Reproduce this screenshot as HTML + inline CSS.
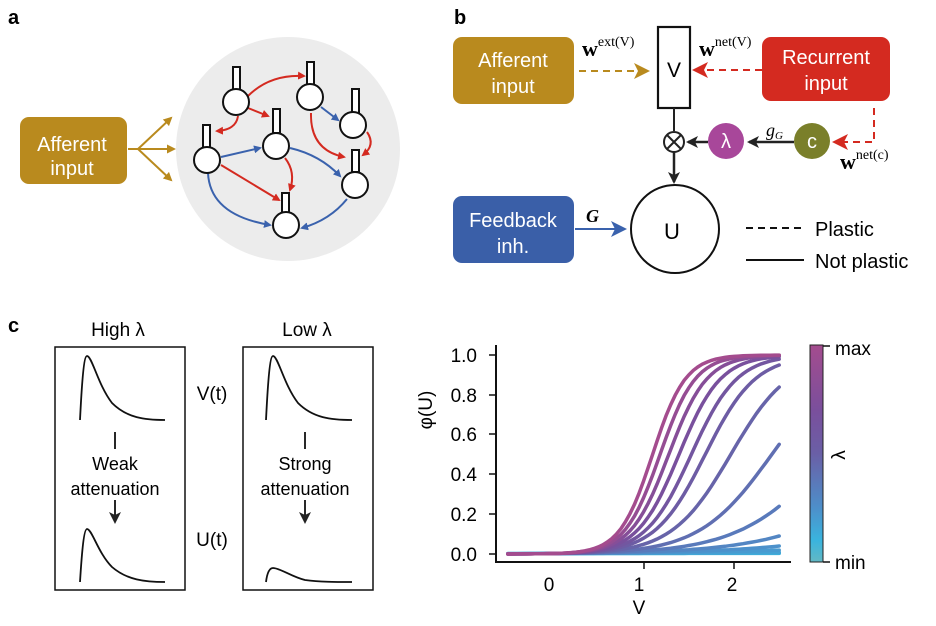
<!DOCTYPE html>
<html><head><meta charset="utf-8"><style>
body{margin:0;background:#fff}
svg{display:block;font-family:"Liberation Sans",sans-serif}
.w{fill:#fff;font-size:20px;text-anchor:middle}
.s{font-family:"Liberation Serif",serif;font-weight:bold}
</style></head><body>
<svg id="s" width="936" height="626" viewBox="0 0 936 626">
<defs>
<marker id="ar" markerWidth="8" markerHeight="8" refX="6" refY="4" orient="auto" markerUnits="userSpaceOnUse"><path d="M0,0 L8,4 L0,8 Z" fill="#d42a20"/></marker>
<marker id="ab" markerWidth="8" markerHeight="8" refX="6" refY="4" orient="auto" markerUnits="userSpaceOnUse"><path d="M0,0 L8,4 L0,8 Z" fill="#3a62ad"/></marker>
<marker id="ag" markerWidth="9" markerHeight="9" refX="7" refY="4.5" orient="auto" markerUnits="userSpaceOnUse"><path d="M0,0 L9,4.5 L0,9 Z" fill="#b98a1e"/></marker>
<marker id="ak" markerWidth="12" markerHeight="12" refX="10" refY="6" orient="auto" markerUnits="userSpaceOnUse"><path d="M0,0 L12,6 L0,12 L3,6 Z" fill="#222"/></marker>
<marker id="ag2" markerWidth="16" markerHeight="16" refX="14" refY="8" orient="auto" markerUnits="userSpaceOnUse"><path d="M0,0 L16,8 L0,16 L4,8 Z" fill="#b98a1e"/></marker>
<marker id="ar2" markerWidth="16" markerHeight="16" refX="14" refY="8" orient="auto" markerUnits="userSpaceOnUse"><path d="M0,0 L16,8 L0,16 L4,8 Z" fill="#d42a20"/></marker>
<marker id="ab2" markerWidth="16" markerHeight="16" refX="14" refY="8" orient="auto" markerUnits="userSpaceOnUse"><path d="M0,0 L16,8 L0,16 L4,8 Z" fill="#3a62ad"/></marker>
<linearGradient id="cb" x1="0" y1="0" x2="0" y2="1">
<stop offset="0" stop-color="#a44c8e"/><stop offset="0.3" stop-color="#7a4f9c"/><stop offset="0.5" stop-color="#6a5fa6"/><stop offset="0.75" stop-color="#4d8fca"/><stop offset="0.9" stop-color="#3ab4de"/><stop offset="1" stop-color="#62b8c4"/></linearGradient>
</defs>
<!-- panel a -->
<text x="8" y="24" font-size="20" font-weight="bold">a</text>
<rect x="20" y="117" width="107" height="67" rx="9" fill="#b98a1e"/>
<text class="w" x="72" y="151" font-size="20">Afferent</text>
<text class="w" x="72" y="175">input</text>
<g stroke="#b98a1e" stroke-width="2" fill="none">
<path d="M128,149 L138,149" /><path d="M138,149 L171,118" marker-end="url(#ag)"/><path d="M138,149 L174,149" marker-end="url(#ag)"/><path d="M138,149 L171,180" marker-end="url(#ag)"/></g>
<circle cx="288" cy="149" r="112" fill="#ececec"/>
<g stroke="#d42a20" stroke-width="2" fill="none" marker-end="url(#ar)">
<path d="M248,96 Q270,74 304,76"/><path d="M248,108 L268,116"/><path d="M238,116 Q236,130 217,131"/><path d="M311,113 Q310,150 344,157"/><path d="M367,132 Q376,145 363,155"/><path d="M285,158 Q296,172 290,190"/><path d="M221,165 L279,200"/></g>
<g stroke="#3a62ad" stroke-width="2" fill="none" marker-end="url(#ab)">
<path d="M221,157 L260,148"/><path d="M290,148 Q320,155 340,176"/><path d="M321,107 L338,120"/><path d="M208,173 Q210,215 270,225"/><path d="M347,199 Q330,220 302,228"/></g>
<g stroke="#111" stroke-width="2" fill="#fff">
<rect x="233" y="67" width="7" height="23"/><circle cx="236" cy="102" r="13"/>
<rect x="307" y="62" width="7" height="25"/><circle cx="310" cy="97" r="13"/>
<rect x="352" y="89" width="7" height="24"/><circle cx="353" cy="125" r="13"/>
<rect x="273" y="109" width="7" height="24"/><circle cx="276" cy="146" r="13"/>
<rect x="203" y="125" width="7" height="23"/><circle cx="207" cy="160" r="13"/>
<rect x="352" y="150" width="7" height="22"/><circle cx="355" cy="185" r="13"/>
<rect x="282" y="193" width="7" height="20"/><circle cx="286" cy="225" r="13"/></g>
<!-- panel b -->
<text x="454" y="24" font-size="20" font-weight="bold">b</text>
<rect x="453" y="37" width="121" height="67" rx="9" fill="#b98a1e"/>
<text class="w" x="513" y="67" font-size="21">Afferent</text><text class="w" x="513" y="93" font-size="21">input</text>
<rect x="762" y="37" width="128" height="64" rx="9" fill="#d42a20"/>
<text class="w" x="826" y="64" font-size="21">Recurrent</text><text class="w" x="826" y="90" font-size="21">input</text>
<rect x="453" y="196" width="121" height="67" rx="9" fill="#3a5fa8"/>
<text class="w" x="513" y="227" font-size="21">Feedback</text><text class="w" x="513" y="253" font-size="21">inh.</text>
<path d="M579,71 L648,71" stroke="#b98a1e" stroke-width="2" stroke-dasharray="7,5" fill="none" marker-end="url(#ag2)"/>
<path d="M762,70 L694,70" stroke="#d42a20" stroke-width="2" stroke-dasharray="7,5" fill="none" marker-end="url(#ar2)"/>
<path d="M874,108 L874,142 L834,142" stroke="#d42a20" stroke-width="2" stroke-dasharray="7,5" fill="none" marker-end="url(#ar2)"/>
<path d="M575,229 L625,229" stroke="#3a62ad" stroke-width="2" fill="none" marker-end="url(#ab2)"/>
<rect x="658" y="27" width="32" height="81" fill="#fff" stroke="#111" stroke-width="2.2"/>
<text x="674" y="77" font-size="21" text-anchor="middle">V</text>
<path d="M674,108 L674,131" stroke="#222" stroke-width="2"/>
<circle cx="674" cy="142" r="10" fill="#fff" stroke="#222" stroke-width="2"/>
<path d="M667,135 L681,149 M681,135 L667,149" stroke="#222" stroke-width="2"/>
<path d="M674,152 L674,182" stroke="#222" stroke-width="2.5" marker-end="url(#ak)"/>
<path d="M708,142 L688,142" stroke="#222" stroke-width="2.5" marker-end="url(#ak)"/>
<path d="M794,142 L749,142" stroke="#222" stroke-width="2.5" marker-end="url(#ak)"/>
<circle cx="726" cy="141" r="18" fill="#a8479a"/><text class="w" x="726" y="148" font-size="19">λ</text>
<circle cx="812" cy="141" r="18" fill="#7a7f2a"/><text class="w" x="812" y="148" font-size="19">c</text>
<circle cx="675" cy="229" r="44" fill="#fff" stroke="#111" stroke-width="2"/>
<text x="672" y="239" font-size="22" text-anchor="middle">U</text>
<text class="s" x="582" y="56" font-size="22">w<tspan font-size="14" font-weight="normal" dy="-10">ext(V)</tspan></text>
<text class="s" x="699" y="56" font-size="22">w<tspan font-size="14" font-weight="normal" dy="-10">net(V)</tspan></text>
<text class="s" x="840" y="169" font-size="22">w<tspan font-size="14" font-weight="normal" dy="-10">net(c)</tspan></text>
<text x="766" y="136" font-size="18" font-style="italic" font-family="Liberation Serif,serif">g<tspan font-size="11" dy="3">G</tspan></text>
<text x="586" y="222" font-size="18" font-style="italic" font-weight="bold" font-family="Liberation Serif,serif">G</text>
<path d="M746,228 L804,228" stroke="#111" stroke-width="2" stroke-dasharray="7,5"/>
<path d="M746,260 L804,260" stroke="#111" stroke-width="2"/>
<text x="815" y="236" font-size="20">Plastic</text><text x="815" y="268" font-size="20">Not plastic</text>
<!-- panel c -->
<text x="8" y="332" font-size="20" font-weight="bold">c</text>
<text x="118" y="336" font-size="19" text-anchor="middle">High λ</text>
<text x="307" y="336" font-size="19" text-anchor="middle">Low λ</text>
<rect x="55" y="347" width="130" height="243" fill="none" stroke="#111" stroke-width="1.5"/>
<rect x="243" y="347" width="130" height="243" fill="none" stroke="#111" stroke-width="1.5"/>
<text x="212" y="400" font-size="19" text-anchor="middle">V(t)</text>
<text x="212" y="546" font-size="19" text-anchor="middle">U(t)</text>
<g stroke="#111" stroke-width="1.8" fill="none">
<path d="M80,420 C82,380 84,356 87,356 C92,356 98,385 112,403 C127,418 145,420 165,420"/>
<path d="M266,420 C268,380 270,356 273,356 C278,356 284,385 298,403 C313,418 331,420 352,420"/>
<path d="M80,582 C82,550 84,529 87,529 C92,529 98,553 112,567 C127,580 145,582 165,582"/>
<path d="M266,582 C267,574 269,568 273,568 C280,568 292,577 305,580 C320,582 335,582 352,582"/>
<path d="M115,432 L115,449"/><path d="M305,432 L305,449"/>
<path d="M115,500 L115,522" marker-end="url(#ak)"/><path d="M305,500 L305,522" marker-end="url(#ak)"/></g>
<text x="115" y="470" font-size="18" text-anchor="middle">Weak</text><text x="115" y="495" font-size="18" text-anchor="middle">attenuation</text>
<text x="305" y="470" font-size="18" text-anchor="middle">Strong</text><text x="305" y="495" font-size="18" text-anchor="middle">attenuation</text>
<!-- plot -->
<g id="curves" fill="none" stroke-width="3.5" stroke-linecap="round"></g>
<path d="M496,345 L496,562 L791,562" stroke="#111" stroke-width="2" fill="none"/>
<g stroke="#111" stroke-width="1.5">
<path d="M489,355 H496 M489,395 H496 M489,434 H496 M489,474 H496 M489,514 H496 M489,554 H496"/>
<path d="M644,562 V569 M734,562 V569"/></g>
<g font-size="19" text-anchor="end">
<text x="477" y="362">1.0</text><text x="477" y="402">0.8</text><text x="477" y="441">0.6</text><text x="477" y="481">0.4</text><text x="477" y="521">0.2</text><text x="477" y="561">0.0</text></g>
<g font-size="19" text-anchor="middle"><text x="549" y="591">0</text><text x="639" y="591">1</text><text x="732" y="591">2</text><text x="639" y="614">V</text></g>
<text transform="translate(432,410) rotate(-90)" font-size="19" text-anchor="middle">φ(U)</text>
<rect x="810" y="345" width="13" height="217" fill="url(#cb)" stroke="#222" stroke-width="1"/>
<path d="M823,346 H830 M823,562 H830" stroke="#111" stroke-width="1.5"/>
<text x="835" y="355" font-size="19">max</text><text x="835" y="569" font-size="19">min</text>
<text transform="translate(845,455) rotate(-90)" font-size="19" text-anchor="middle">λ</text>
</svg>
<script>
(function(){
var g=document.getElementById('curves');
var lams=[0.02,0.06,0.1,0.156,0.209,0.272,0.356,0.455,0.56,0.654,0.72,0.79,0.86,0.93,1.0];
function col(t){var stops=[[0,[58,180,222]],[0.3,[77,143,202]],[0.6,[106,95,166]],[0.8,[122,79,156]],[1,[164,76,142]]];
for(var i=1;i<stops.length;i++){if(t<=stops[i][0]){var a=stops[i-1],b=stops[i],f=(t-a[0])/(b[0]-a[0]);
return 'rgb('+[0,1,2].map(function(k){return Math.round(a[1][k]+(b[1][k]-a[1][k])*f)}).join(',')+')';}}return 'rgb(164,76,142)';}
lams.forEach(function(l,i){var d='';for(var v=-0.5;v<=2.5001;v+=0.05){var p=1/(1+Math.exp(-5.5*(l*v-1.1)));
var x=553+90.5*v,y=554-199*p;d+=(d?'L':'M')+x.toFixed(1)+','+y.toFixed(1);}
var pth=document.createElementNS('http://www.w3.org/2000/svg','path');pth.setAttribute('d',d);
pth.setAttribute('stroke',col(i/(lams.length-1)));g.appendChild(pth);});
})();
</script>
</body></html>
